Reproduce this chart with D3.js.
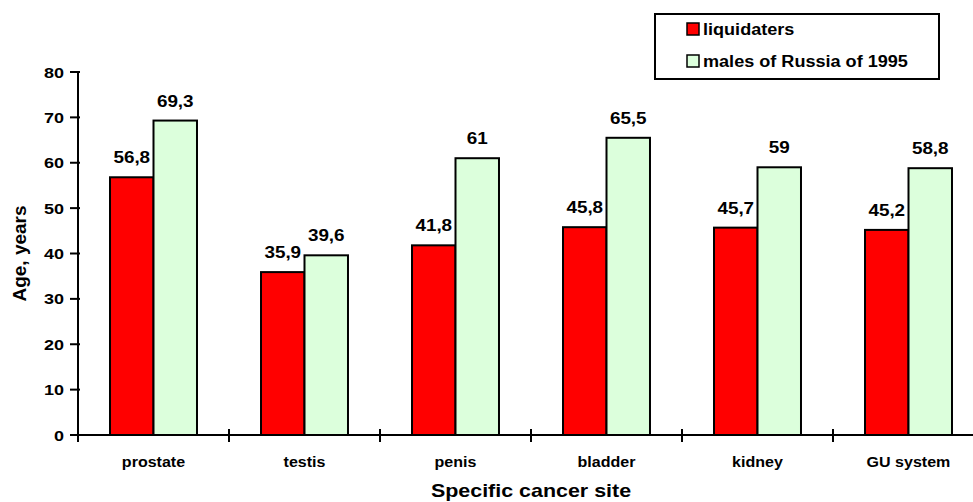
<!DOCTYPE html>
<html><head><meta charset="utf-8">
<script src="https://cdn.jsdelivr.net/npm/d3@7"></script>
<style>
html,body{margin:0;padding:0;background:#fff;}
svg{display:block;font-family:"Liberation Sans",Arial,sans-serif;font-weight:bold;}
</style></head>
<body>
<svg id="chart" width="973" height="502"></svg>
<script>
const categories = ["prostate", "testis", "penis", "bladder", "kidney", "GU system"];
const seriesNames = ["liquidaters", "males of Russia of 1995"];
const liquidaters = [56.8, 35.9, 41.8, 45.8, 45.7, 45.2];
const malesRussia1995 = [69.3, 39.6, 61, 65.5, 59, 58.8];
const yTicks = [0, 10, 20, 30, 40, 50, 60, 70, 80];
const colors = ["#ff0000", "#dcffdc"];

(function () {
const svg = d3.select("#chart");
const mL = 78, mR = 984, mT = 72, mB = 435;
const SX = 1.18;

const x = d3.scaleBand().domain(categories).range([mL, mR]).paddingInner(0).paddingOuter(0);
const xi = d3.scaleBand().domain([0, 1]).range([0, x.bandwidth()]).paddingInner(0).paddingOuter(0.736);
const y = d3.scaleLinear().domain([0, 80]).range([mB, mT]);

function txt(g, tx, ty, s, size, anchor, sx) {
  return g.append("text")
    .attr("transform", `translate(${tx},${ty}) scale(${sx},1)`)
    .attr("text-anchor", anchor)
    .attr("font-size", size)
    .attr("fill", "#000")
    .text(s);
}

// bars
const series = [liquidaters, malesRussia1995];
const rows = [];
categories.forEach((c, i) => series.forEach((s, k) => rows.push({c, k, v: s[i]})));
svg.append("g").selectAll("rect").data(rows).join("rect")
  .attr("x", d => x(d.c) + xi(d.k))
  .attr("y", d => y(d.v))
  .attr("width", xi.bandwidth())
  .attr("height", d => y(0) - y(d.v))
  .attr("fill", d => colors[d.k])
  .attr("stroke", "#000")
  .attr("stroke-width", 2);

// value labels
const lg = svg.append("g");
rows.forEach(d => {
  txt(lg, x(d.c) + xi(d.k) + xi.bandwidth() / 2, y(d.v) - 14, String(d.v).replace(".", ","), 16, "middle", SX);
});

// y axis
const ya = svg.append("g");
ya.append("line").attr("x1", mL).attr("x2", mL).attr("y1", y(80)).attr("y2", y(0) + 7)
  .attr("stroke", "#000").attr("stroke-width", 2);
yTicks.forEach(t => {
  ya.append("line").attr("x1", mL - 8).attr("x2", mL + 2).attr("y1", y(t)).attr("y2", y(t))
    .attr("stroke", "#000").attr("stroke-width", 2);
  txt(ya, mL - 14, y(t) + 5.5, String(t), 15, "end", 1.2);
});

// x axis
const xa = svg.append("g");
xa.append("line").attr("x1", mL).attr("x2", mR).attr("y1", y(0)).attr("y2", y(0))
  .attr("stroke", "#000").attr("stroke-width", 2);
categories.forEach(c => {
  xa.append("line").attr("x1", x(c)).attr("x2", x(c)).attr("y1", y(0) - 6).attr("y2", y(0) + 7)
    .attr("stroke", "#000").attr("stroke-width", 2);
  txt(xa, x(c) + x.bandwidth() / 2, 467, c, 15, "middle", 1.07);
});

// axis titles
txt(svg, (mL + mR) / 2, 497, "Specific cancer site", 18.5, "middle", 1.16);
svg.append("text")
  .attr("transform", `translate(26,${(mT + mB) / 2}) rotate(-90)`)
  .attr("text-anchor", "middle").attr("font-size", 19).text("Age, years");

// legend
const leg = svg.append("g");
leg.append("rect").attr("x", 655).attr("y", 14).attr("width", 284).attr("height", 65)
  .attr("fill", "#fff").attr("stroke", "#000").attr("stroke-width", 2);
seriesNames.forEach((n, k) => {
  const yy = 23 + k * 32;
  leg.append("rect").attr("x", 687).attr("y", yy).attr("width", 12).attr("height", 12)
    .attr("fill", colors[k]).attr("stroke", "#000").attr("stroke-width", 1.5);
  txt(leg, 703, yy + 12, n, 16, "start", 1.13);
});
})();
</script>
</body></html>
